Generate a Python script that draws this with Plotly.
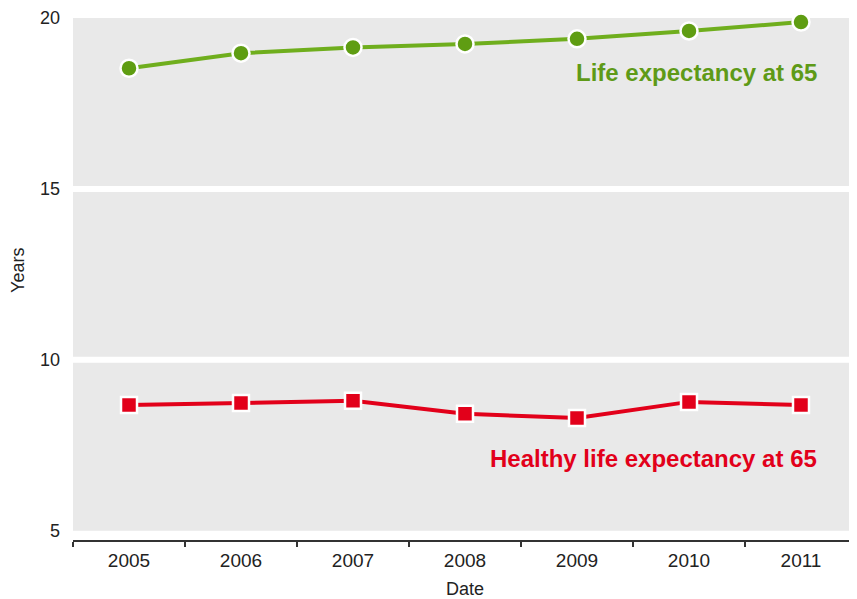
import plotly.graph_objects as go

years = ["2005", "2006", "2007", "2008", "2009", "2010", "2011"]
life_exp = [18.53, 18.97, 19.14, 19.24, 19.39, 19.62, 19.88]
healthy_life_exp = [8.68, 8.74, 8.80, 8.42, 8.30, 8.77, 8.68]
y_ticks = [5, 10, 15, 20]

GREEN_LINE = "#6fae1d"
GREEN_MARK = "#5f9d12"
GREEN_TEXT = "#5e9a17"
RED = "#e2001a"
BG = "#e9e9e9"
FONT = "Liberation Sans, Arial, sans-serif"

fig = go.Figure()
fig.add_trace(go.Scatter(
    x=years, y=life_exp, mode="lines+markers",
    line=dict(color=GREEN_LINE, width=4),
    marker=dict(symbol="circle", size=17, color=GREEN_MARK, line=dict(color="white", width=2.5)),
    showlegend=False, cliponaxis=False,
))
fig.add_trace(go.Scatter(
    x=years, y=healthy_life_exp, mode="lines+markers",
    line=dict(color=RED, width=4),
    marker=dict(symbol="square", size=16, color=RED, line=dict(color="white", width=2.5)),
    showlegend=False, cliponaxis=False,
))

# gray panel from 5 to 20
fig.add_shape(type="rect", xref="paper", yref="y", x0=0, x1=1, y0=5, y1=20,
              fillcolor=BG, line=dict(width=0), layer="below")
for g in [10, 15]:
    fig.add_shape(type="line", xref="paper", yref="y", x0=0, x1=1, y0=g, y1=g,
                  line=dict(color="white", width=6), layer="below")

fig.add_annotation(x=1, xref="paper", xshift=-38, y=18.42, yref="y", xanchor="right", yanchor="middle",
                   text="<b>Life expectancy at 65</b>", showarrow=False,
                   font=dict(color=GREEN_TEXT, size=24, family=FONT))
fig.add_annotation(x=1, xref="paper", xshift=-38, y=7.1, yref="y", xanchor="right", yanchor="middle",
                   text="<b>Healthy life expectancy at 65</b>", showarrow=False,
                   font=dict(color=RED, size=24, family=FONT))
# y axis title
fig.add_annotation(x=0, xref="paper", xshift=-55, y=12.6, yref="y", xanchor="center", yanchor="middle",
                   text="Years", textangle=-90, showarrow=False,
                   font=dict(color="#222", size=18, family=FONT))

fig.update_layout(
    width=849, height=591,
    margin=dict(l=65, r=0, t=10, b=59, autoexpand=False),
    plot_bgcolor="white", paper_bgcolor="white",
    font=dict(family=FONT, size=18, color="#222"),
    xaxis=dict(
        type="category", range=[-0.5, 6.5], tickson="boundaries",
        ticks="outside", ticklen=5, tickcolor="#333", tickwidth=1.5,
        showline=True, linecolor="#333", linewidth=1.5,
        showgrid=False, zeroline=False, automargin=False,
        ticklabelstandoff=2,
        title=dict(text="Date", font=dict(size=18), standoff=19),
        tickfont=dict(size=19),
    ),
    yaxis=dict(
        range=[4.73, 20], tickmode="array", tickvals=y_ticks,
        ticktext=[str(v) for v in y_ticks],
        showgrid=False, zeroline=False, showline=False, automargin=False,
        ticks="", ticklabelstandoff=12,
        tickfont=dict(size=18),
    ),
)

fig.write_html("out.html")
